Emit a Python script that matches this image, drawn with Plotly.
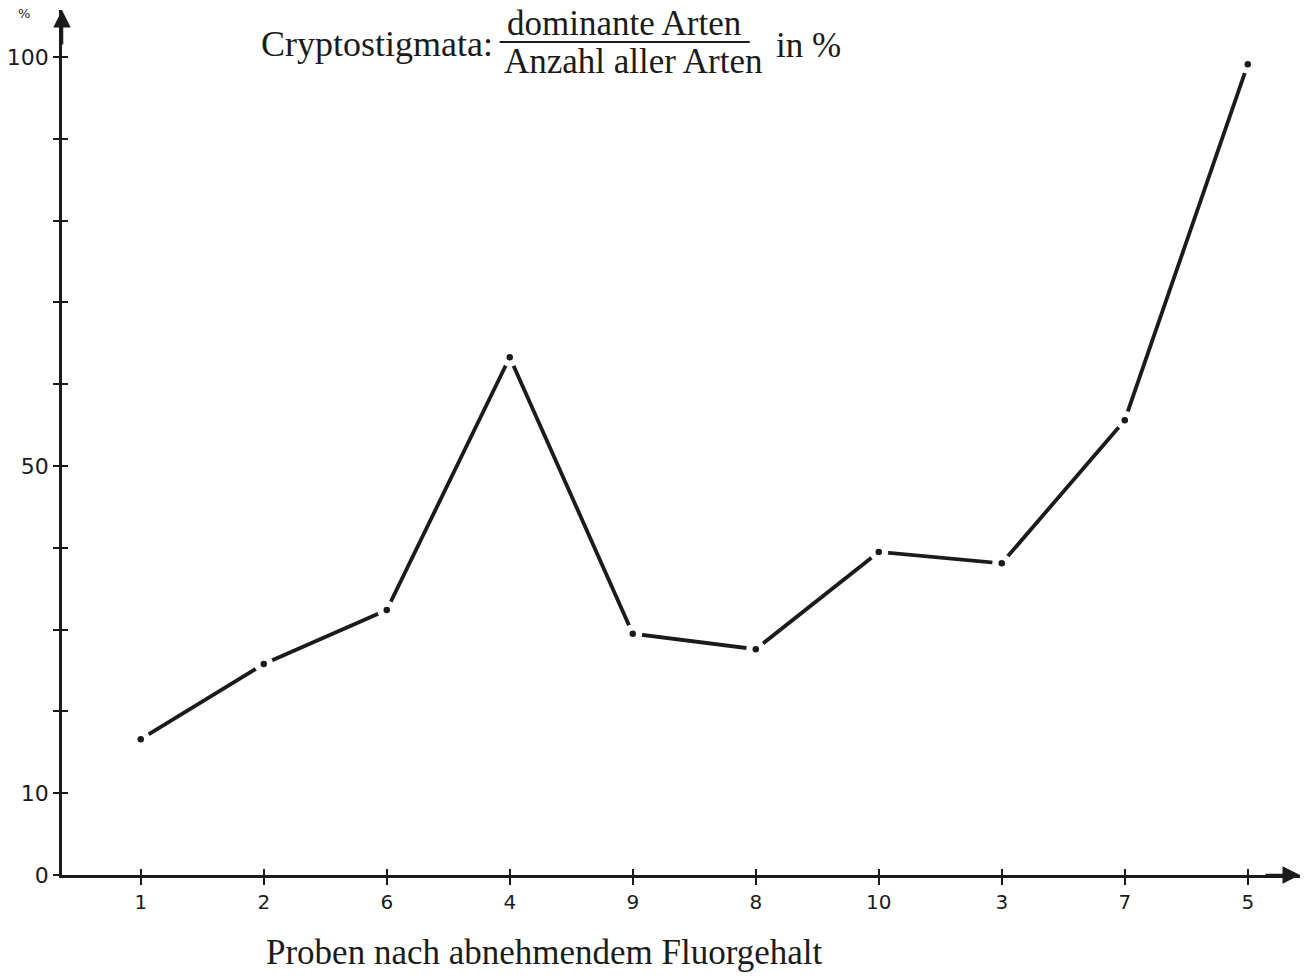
import plotly.graph_objects as go

# Data
samples = ["1", "2", "6", "4", "9", "8", "10", "3", "7", "5"]
percent = [16.6, 25.8, 32.4, 63.3, 29.5, 27.6, 39.5, 38.1, 55.6, 99.1]
y_tick_vals = [0, 10, 20, 30, 40, 50, 60, 70, 80, 90, 100]
y_tick_text = ["0", "10", "", "", "", "50", "", "", "", "", "100"]

xpos = list(range(len(samples)))

W, H = 1307, 978
L, R, T, B = 58, 7, 10, 103
pw, ph = W - L - R, H - T - B

def px(x):
    return (x - L) / pw

def py(y):
    return (H - B - y) / ph

INK = "#1b1b1b"
serif = "Liberation Serif, Times New Roman, serif"
sans = "DejaVu Sans, Liberation Sans, Arial, sans-serif"

fig = go.Figure()
fig.add_trace(go.Scatter(x=xpos, y=percent, mode="lines",
                         line=dict(color=INK, width=3.8), hoverinfo="skip"))
fig.add_trace(go.Scatter(x=xpos, y=percent, mode="markers",
                         marker=dict(color="white", size=19, line=dict(width=0)),
                         hoverinfo="skip"))
fig.add_trace(go.Scatter(x=xpos, y=percent, mode="markers",
                         marker=dict(color=INK, size=6.5, line=dict(width=0))))

# axis ranges
x_left = -(137 - L) / 123.4
x_right = x_left + pw / 123.4
y_top = ph / 8.18

common_y = dict(range=[0, y_top], tickvals=y_tick_vals, showgrid=False,
                zeroline=False, tickcolor=INK, tickwidth=2)
common_x = dict(range=[x_left, x_right], tickvals=xpos, showgrid=False,
                zeroline=False, tickcolor=INK, tickwidth=2)

fig.update_layout(
    width=W, height=H,
    margin=dict(l=L, r=R, t=T, b=B),
    paper_bgcolor="white", plot_bgcolor="white",
    showlegend=False,
    xaxis=dict(**common_x, ticktext=samples, ticks="outside", ticklen=7,
               showline=True, linecolor=INK, linewidth=2.5,
               tickfont=dict(family=sans, size=20, color=INK)),
    yaxis=dict(**common_y, ticktext=y_tick_text, ticks="outside", ticklen=6,
               showline=True, linecolor=INK, linewidth=2.5,
               tickfont=dict(family=sans, size=22, color=INK)),
    xaxis2=dict(**common_x, overlaying="x", ticks="inside", ticklen=6,
                showticklabels=False, showline=False),
    yaxis2=dict(**common_y, overlaying="y", ticks="inside", ticklen=6,
                showticklabels=False, showline=False),
)
# invisible trace to show overlay axes
fig.add_trace(go.Scatter(x=[xpos[0]], y=[percent[0]], xaxis="x2", yaxis="y2",
                         mode="markers", marker=dict(opacity=0), hoverinfo="skip"))

TS = 35
annotations = [
    dict(x=0, y=1, xref="paper", yref="paper", ax=0, ay=36,
         showarrow=True, arrowhead=2, arrowsize=1.4, arrowwidth=2.5, arrowcolor=INK, text=""),
    dict(x=1, y=0, xref="paper", yref="paper", ax=-36, ay=0,
         showarrow=True, arrowhead=2, arrowsize=1.4, arrowwidth=2.5, arrowcolor=INK, text=""),
    dict(x=px(20), y=py(13), xref="paper", yref="paper", text="%", showarrow=False,
         font=dict(family=sans, size=13, color=INK), xanchor="center", yanchor="middle"),
    dict(x=px(256), y=py(44), xref="paper", yref="paper", text="Cryptostigmata:",
         showarrow=False, xanchor="left", yanchor="middle",
         font=dict(family=serif, size=TS + 1, color=INK)),
    dict(x=px(622), y=py(23), xref="paper", yref="paper", text="dominante Arten",
         showarrow=False, xanchor="center", yanchor="middle",
         font=dict(family=serif, size=TS, color=INK)),
    dict(x=px(631), y=py(62), xref="paper", yref="paper", text="Anzahl aller Arten",
         showarrow=False, xanchor="center", yanchor="middle",
         font=dict(family=serif, size=TS, color=INK)),
    dict(x=px(772), y=py(46), xref="paper", yref="paper", text="in %",
         showarrow=False, xanchor="left", yanchor="middle",
         font=dict(family=serif, size=TS, color=INK)),
    dict(x=px(542), y=py(952), xref="paper", yref="paper",
         text="Proben nach abnehmendem Fluorgehalt",
         showarrow=False, xanchor="center", yanchor="middle",
         font=dict(family=serif, size=TS, color=INK)),
]
fig.update_layout(annotations=annotations)

fig.add_shape(type="line", xref="paper", yref="paper",
              x0=px(497), x1=px(748), y0=py(42), y1=py(42),
              line=dict(color=INK, width=2))

fig.write_html("out.html", config={"displayModeBar": False},
               post_script="document.body.style.margin='0';document.body.style.padding='0';")
